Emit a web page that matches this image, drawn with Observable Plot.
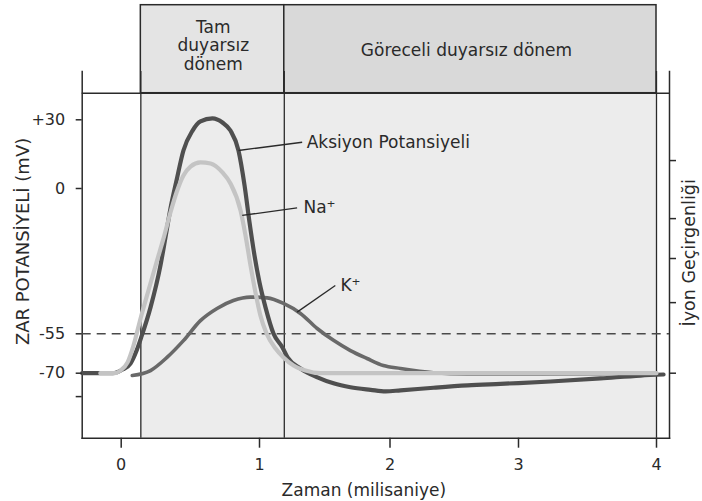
<!DOCTYPE html>
<html>
<head>
<meta charset="utf-8">
<script src="https://cdn.jsdelivr.net/npm/d3@7"></script>
<script src="https://cdn.jsdelivr.net/npm/@observablehq/plot@0.6"></script>
<style>
  html, body { margin: 0; padding: 0; background: #fff; }
  #chart svg { display: block; }
</style>
</head>
<body>
<div id="chart"></div>
<script>
// ---- Data (time in ms, membrane potential in mV) ----
const apTime = [-0.28, -0.15, -0.06, 0.01, 0.067, 0.111, 0.147, 0.212, 0.284, 0.320, 0.356, 0.400, 0.450, 0.516, 0.573, 0.660, 0.732, 0.790, 0.848, 0.892, 0.928, 0.964, 1.000, 1.046, 1.107, 1.176, 1.215, 1.314, 1.444, 1.567, 1.697, 1.851, 1.966, 2.082, 2.339, 2.603, 2.860, 3.232, 3.594, 3.884, 4.051];
const apMv   = [-70, -70, -70, -68.6, -66.3, -61.4, -56.0, -45.0, -29.1, -18.5, -7.6, 3.5, 16.6, 25.3, 29.3, 30.6, 28.8, 25.3, 16.6, 1.3, -12.9, -25.4, -35.6, -45.0, -54.9, -60.2, -64.0, -68.2, -71.6, -73.9, -75.4, -76.4, -77.0, -76.6, -75.6, -74.7, -74.1, -73.2, -72.0, -70.9, -70.5];

const naTime  = [-0.15, -0.056, -0.005, 0.046, 0.089, 0.140, 0.197, 0.255, 0.306, 0.356, 0.400, 0.450, 0.501, 0.573, 0.646, 0.732, 0.790, 0.863, 0.899, 0.935, 0.971, 1.007, 1.054, 1.123, 1.184, 1.261, 1.352, 1.467, 2.082, 2.860, 4.0];
const naLevel = [-70, -70, -69.0, -65.9, -59.5, -49.2, -38.6, -28.0, -18.9, -9.1, -1.5, 5.7, 9.6, 11.4, 10.9, 7.0, 2.2, -8.3, -17.8, -29.1, -39.4, -48.1, -54.9, -60.6, -64.0, -67.1, -69.0, -70, -70, -70, -70];

const kTime  = [0.080, 0.212, 0.333, 0.450, 0.573, 0.693, 0.811, 0.934, 1.059, 1.184, 1.314, 1.442, 1.567, 1.697, 1.824, 1.949, 2.082, 2.339, 2.603, 2.860, 3.594, 4.0];
const kLevel = [-70.9, -69.0, -63.9, -57.6, -50.0, -45.4, -42.4, -41.1, -41.4, -43.5, -47.3, -53.0, -57.5, -61.4, -64.4, -67.1, -68.2, -69.8, -70.3, -70.3, -70.2, -70];

const xTicks = [0, 1, 2, 3, 4];
const yTicks = [30, 0, -55, -70, -79];
const yTickLabels = ["+30", "0", "-55", "-70", ""];
const ionTicks = [12.2, -11.4, -26.5, -43.2, -70];
const threshold = -55;

const phaseNames = ["Tam\nduyarsız\ndönem", "Göreceli duyarsız dönem"];
const phaseStart = [0.142, 1.19];
const phaseEnd   = [1.19, 4];

const annLabels = ["Aksiyon Potansiyeli", "Na⁺", "K⁺"];
const annFromT  = [0.848, 0.875, 1.288];
const annFromV  = [16.6, -10.2, -46.8];
const annToT    = [1.327, 1.288, 1.581];
const annToV    = [20.2, -7.3, -36.7];
const annTextT  = [1.362, 1.337, 1.620];
const annTextV  = [19.9, -7.1, -36.7];

const xTitle = "Zaman (milisaniye)";
const yTitle = "ZAR POTANSİYELİ (mV)";
const y2Title = "İyon Geçirgenliği";

// ---- Build tables ----
const toRows = (t, v) => t.map((x, i) => ({t: x, v: v[i]}));
const ap = toRows(apTime, apMv);
const na = toRows(naTime, naLevel);
const k = toRows(kTime, kLevel);
const phases = phaseNames.map((name, i) => ({name, start: phaseStart[i], end: phaseEnd[i]}));
const boundaries = Array.from(new Set([...phaseStart, ...phaseEnd]));
const ann = annLabels.map((label, i) => ({label, t0: annFromT[i], v0: annFromV[i], t1: annToT[i], v1: annToV[i], tt: annTextT[i], vt: annTextV[i]}));

// header band (in y-scale units above the plotted range)
const headerTop = 80, headerBottom = 41.6, headerMid = (headerTop + headerBottom) / 2;

const ink = "#2a2a2a";

const chart = Plot.plot({
  width: 702,
  height: 501,
  marginLeft: 81.7,
  marginRight: 33,
  marginTop: 71,
  marginBottom: 63.3,
  style: {fontFamily: "DejaVu Sans", fontSize: "16px", color: ink, background: "#fff"},
  x: {type: "linear", domain: [-0.28, 0, 1, 2, 3, 4, 4.094], range: [81.7, 120.7, 259, 389.5, 518, 656, 669]},
  y: {type: "linear", domain: [-95, -70, -55, 0, 30, 80], range: [437.7, 372.7, 333.3, 188, 119.3, 4.7]},
  marks: [
    // shaded refractory area
    Plot.rect([{start: phaseStart[0], end: phaseEnd[phaseEnd.length - 1]}], {x1: "start", x2: "end", fill: "#ececec"}),
    // header boxes
    Plot.rect(phases, {x1: "start", x2: "end", y1: () => headerTop, y2: () => headerBottom,
      fill: d => d.start === phaseStart[0] ? "#e4e4e4" : "#d9d9d9", stroke: ink, strokeWidth: 1.5}),
    Plot.text([phases[0]], {x: d => (d.start + d.end) / 2, y: () => headerMid, text: "name", fontSize: 17, lineHeight: 1.1, dy: -4, fill: ink}),
    Plot.text([phases[1]], {x: d => (d.start + d.end) / 2, y: () => headerMid, text: "name", fontSize: 17, dy: 1, fill: ink}),
    // frame lines
    Plot.frame({anchor: "left", stroke: ink, strokeWidth: 1.5}),
    Plot.frame({anchor: "right", stroke: ink, strokeWidth: 1.5}),
    Plot.frame({anchor: "bottom", stroke: ink, strokeWidth: 1.5}),
    Plot.ruleY([headerBottom], {stroke: ink, strokeWidth: 1.5}),
    Plot.ruleX(boundaries, {stroke: ink, strokeWidth: 1.3}),
    // threshold
    Plot.ruleY([threshold], {stroke: "#4a4a4a", strokeWidth: 1.6, strokeDasharray: "9,6"}),
    // curves
    Plot.line(k, {x: "t", y: "v", stroke: "#696969", strokeWidth: 3.6, curve: "monotone-x"}),
    Plot.line(ap, {x: "t", y: "v", stroke: "#4f4f4f", strokeWidth: 4.2, curve: "monotone-x"}),
    Plot.line(na, {x: "t", y: "v", stroke: "#c4c4c4", strokeWidth: 4.2, curve: "monotone-x"}),
    // annotations
    Plot.link(ann, {x1: "t0", y1: "v0", x2: "t1", y2: "v1", stroke: ink, strokeWidth: 1.3}),
    Plot.text(ann, {x: "tt", y: "vt", text: "label", textAnchor: "start", fontSize: 17, fill: ink}),
    // axes
    Plot.axisX({anchor: "bottom", ticks: xTicks, tickFormat: d => String(d), tickSize: 10, tickPadding: 10, stroke: ink, strokeWidth: 1.5, label: null}),
    Plot.axisY({anchor: "left", ticks: yTicks, tickFormat: d => yTickLabels[yTicks.indexOf(d)], tickSize: 6, tickPadding: 11, stroke: ink, strokeWidth: 1.5, label: null}),
    Plot.axisY({anchor: "right", ticks: ionTicks, tickFormat: () => "", tickSize: 6, stroke: ink, strokeWidth: 1.5, label: null}),
    // axis titles
    Plot.text([xTitle], {frameAnchor: "bottom", text: d => d, textAnchor: "middle", lineAnchor: "middle", fontSize: 17, dx: -12, dy: 52, fill: ink}),
    Plot.text([yTitle], {frameAnchor: "left", text: d => d, textAnchor: "middle", lineAnchor: "middle", fontSize: 18, rotate: -90, dx: -59, dy: -13.4, fill: ink}),
    Plot.text([y2Title], {frameAnchor: "right", text: d => d, textAnchor: "middle", lineAnchor: "middle", fontSize: 17.5, rotate: -90, dx: 20, dy: -2, fill: ink})
  ]
});
document.getElementById("chart").append(chart);
</script>
</body>
</html>
